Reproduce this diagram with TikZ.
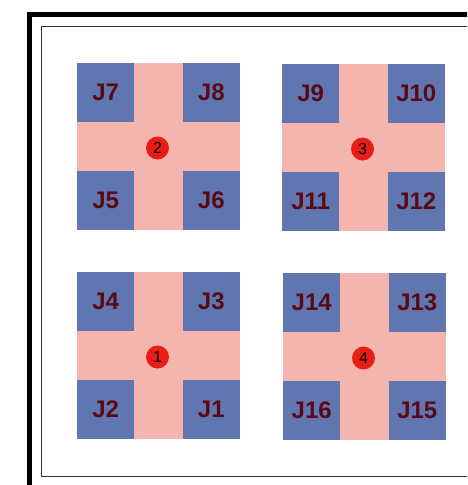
\documentclass[tikz,border=0pt]{standalone}
\usepackage{fontspec}
\setmainfont{Liberation Sans}
\usetikzlibrary{positioning}
\definecolor{padblue}{RGB}{95,118,176}
\definecolor{crosspink}{RGB}{244,181,175}
\definecolor{labelred}{RGB}{90,10,20}
\definecolor{dotred}{RGB}{232,30,20}

\tikzset{
  pad/.style={fill=padblue, minimum width=57pt, minimum height=59pt, inner sep=0pt,
    text=labelred, font=\bfseries\fontsize{24}{24}\selectfont},
  junctiondot/.style={circle, fill=dotred, minimum size=23pt, inner sep=0pt,
    font=\fontsize{16}{16}\selectfont}
}

\begin{document}
\begin{tikzpicture}[x=1pt, y=-1pt]
  \useasboundingbox (0,0) rectangle (467,485);
  \clip (0,0) rectangle (467,485);

  % frames
  \draw[line width=5pt] (29.5,14) rectangle (490,510);
  \draw[line width=1.5pt, black!80] (41.5,26.5) rectangle (490,476.5);

  % four junction blocks
  \foreach \bx/\by/\n/\ja/\jb/\jc/\jd in {77/63/2/J7/J8/J5/J6, 282/64/3/J9/J10/J11/J12,
      77/272/1/J4/J3/J2/J1, 283/273/4/J14/J13/J16/J15}{
    \fill[crosspink] (\bx,\by) rectangle ++(163,167);
    \node[pad, anchor=north west] (\ja) at (\bx,\by) {\ja};
    \node[pad, anchor=north east] (\jb) at ({\bx+163},\by) {\jb};
    \node[pad, anchor=south west] (\jc) at (\bx,{\by+167}) {\jc};
    \node[pad, anchor=south east] (\jd) at ({\bx+163},{\by+167}) {\jd};
    \node[junctiondot] (n\n) at ({\bx+80.5},{\by+85}) {\n};
  }
\end{tikzpicture}
\end{document}
